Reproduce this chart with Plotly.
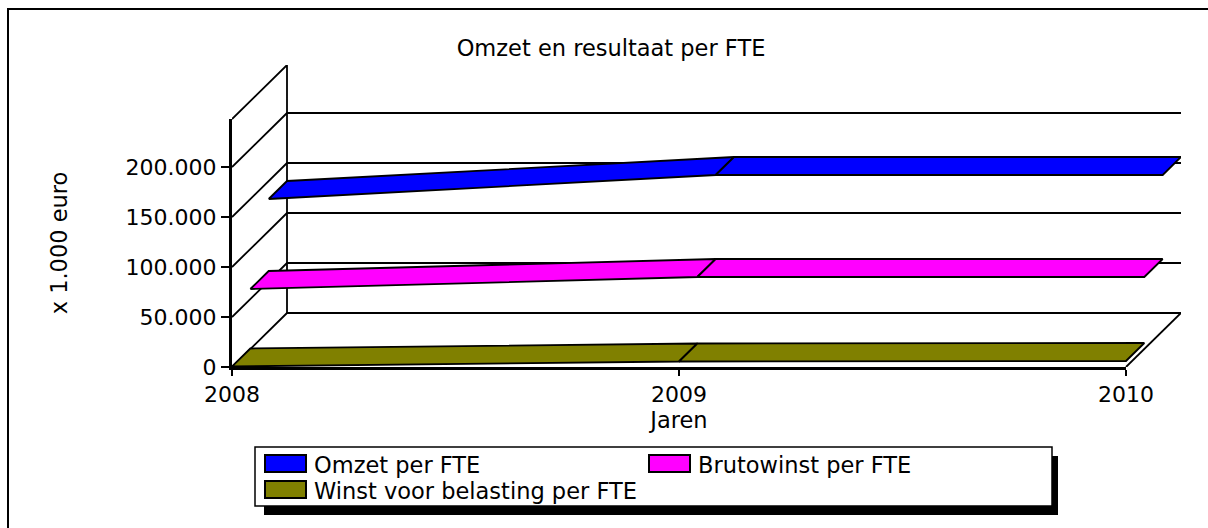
import plotly.graph_objects as go

years = [2008, 2009, 2010]
omzet = [132000, 156000, 156000]
brutowinst = [60000, 72000, 72000]
winst = [500, 5500, 6000]
series_names = ["Omzet per FTE", "Brutowinst per FTE", "Winst voor belasting per FTE"]
series_colors = ["#0000ff", "#ff00ff", "#808000"]
grid_values = [0, 50000, 100000, 150000, 200000]
grid_labels = ["0", "50.000", "100.000", "150.000", "200.000"]
axis_top = 248000

W, H = 1208, 528
L, R, T, B = 232, 1181, 65, 367   # full area including depth
FRONT_R, FRONT_T = 1126, 119
DEPTH_X = (R - FRONT_R) / (FRONT_R - L) * (years[-1] - years[0])
DEPTH_Y = 54000
FONT = "DejaVu Sans"
FS = 22.5
TICK_FS = 22


def px(x):
    return (x - L) / (R - L)


def py(y):
    return (B - y) / (B - T)


fig = go.Figure()

# Front axes carrier (labels, ticks, titles)
fig.add_trace(go.Scatter(x=years, y=[0 for _ in years], xaxis="x", yaxis="y", mode="lines",
                         line=dict(color="black", width=0), hoverinfo="skip", showlegend=False))


def line(xs, ys, width=1.8):
    fig.add_trace(go.Scatter(x=xs, y=ys, xaxis="x2", yaxis="y2", mode="lines",
                             line=dict(color="black", width=width),
                             hoverinfo="skip", showlegend=False))


x0, x1 = years[0], years[-1]
for v in grid_values:
    line([x0, x0 + DEPTH_X, x1 + DEPTH_X], [v, v + DEPTH_Y, v + DEPTH_Y])
line([x0, x0 + DEPTH_X, x0 + DEPTH_X], [axis_top, axis_top + DEPTH_Y, DEPTH_Y])
line([x1, x1 + DEPTH_X], [0, DEPTH_Y])

order = [(winst, 0), (brutowinst, 1), (omzet, 2)]
for values, slot in order:
    idx = 2 - slot
    fx0, fx1 = slot * DEPTH_X / 3, (slot + 1) * DEPTH_X / 3
    fy0, fy1 = slot * DEPTH_Y / 3, (slot + 1) * DEPTH_Y / 3
    for i in range(len(years) - 1):
        xa, xb = years[i], years[i + 1]
        va, vb = values[i], values[i + 1]
        fig.add_trace(go.Scatter(
            x=[xa + fx0, xb + fx0, xb + fx1, xa + fx1, xa + fx0],
            y=[va + fy0, vb + fy0, vb + fy1, va + fy1, va + fy0],
            xaxis="x2", yaxis="y2",
            mode="lines", fill="toself", fillcolor=series_colors[idx],
            line=dict(color="black", width=1.8),
            name=series_names[idx], showlegend=False))

shapes = [
    dict(type="rect", xref="paper", yref="paper", x0=px(8), x1=px(1230), y0=py(9), y1=py(560),
         line=dict(color="black", width=2), layer="below"),
    dict(type="rect", xref="paper", yref="paper", x0=px(264), x1=px(1058), y0=py(456), y1=py(515),
         line=dict(width=0), fillcolor="black", layer="above"),
    dict(type="rect", xref="paper", yref="paper", x0=px(255), x1=px(1052), y0=py(447), y1=py(506),
         line=dict(color="black", width=1.5), fillcolor="white", layer="above"),
]
swatches = [(265, 455), (649, 455), (265, 481)]
annotations = []
for (sx, sy), c, n in zip(swatches, series_colors, series_names):
    shapes.append(dict(type="rect", xref="paper", yref="paper", x0=px(sx), x1=px(sx + 41),
                       y0=py(sy), y1=py(sy + 17), line=dict(color="black", width=2), fillcolor=c, layer="above"))
    annotations.append(dict(xref="paper", yref="paper", x=px(sx + 49), y=py(sy + 10), text=n, showarrow=False,
                            xanchor="left", yanchor="middle", xshift=-2,
                            font=dict(family=FONT, size=FS, color="black")))

tickfont = dict(family=FONT, size=TICK_FS, color="black")

fig.update_layout(
    width=W, height=H, autosize=False,
    margin=dict(l=L, r=W - R, t=T, b=H - B, pad=0, autoexpand=False),
    paper_bgcolor="white", plot_bgcolor="rgba(0,0,0,0)", showlegend=False,
    font=dict(family=FONT, size=FS, color="black"),
    title=dict(text="Omzet en resultaat per FTE", x=611 / W, xref="container", xanchor="center",
               y=1 - 48 / H, yanchor="middle", yref="container", font=dict(family=FONT, size=FS)),
    xaxis=dict(domain=[0, (FRONT_R - L) / (R - L)], range=[x0, x1], anchor="y",
               tickmode="array", tickvals=years, ticktext=[str(y) for y in years],
               showgrid=False, zeroline=False, showline=True, linecolor="black", linewidth=3,
               ticks="outside", ticklen=6, tickwidth=1.5, tickcolor="black", tickfont=tickfont,
               title=dict(text="Jaren", standoff=0, font=dict(family=FONT, size=FS))),
    yaxis=dict(domain=[0, (B - FRONT_T) / (B - T)], range=[0, axis_top], anchor="x",
               tickmode="array", tickvals=grid_values, ticktext=grid_labels,
               showgrid=False, zeroline=False, showline=True, linecolor="black", linewidth=3,
               ticks="outside", ticklen=8, tickwidth=1.5, tickcolor="black", tickfont=tickfont,
               title=dict(text="x 1.000 euro", standoff=52, font=dict(family=FONT, size=FS))),
    xaxis2=dict(domain=[0, 1], range=[x0, x1 + DEPTH_X], anchor="y2", visible=False),
    yaxis2=dict(domain=[0, 1], range=[0, axis_top + DEPTH_Y], anchor="x2", visible=False),
    shapes=shapes, annotations=annotations,
)

fig.write_html("out.html", config=dict(displayModeBar=False),
               post_script="document.body.style.margin='0';document.documentElement.style.overflow='hidden';")
